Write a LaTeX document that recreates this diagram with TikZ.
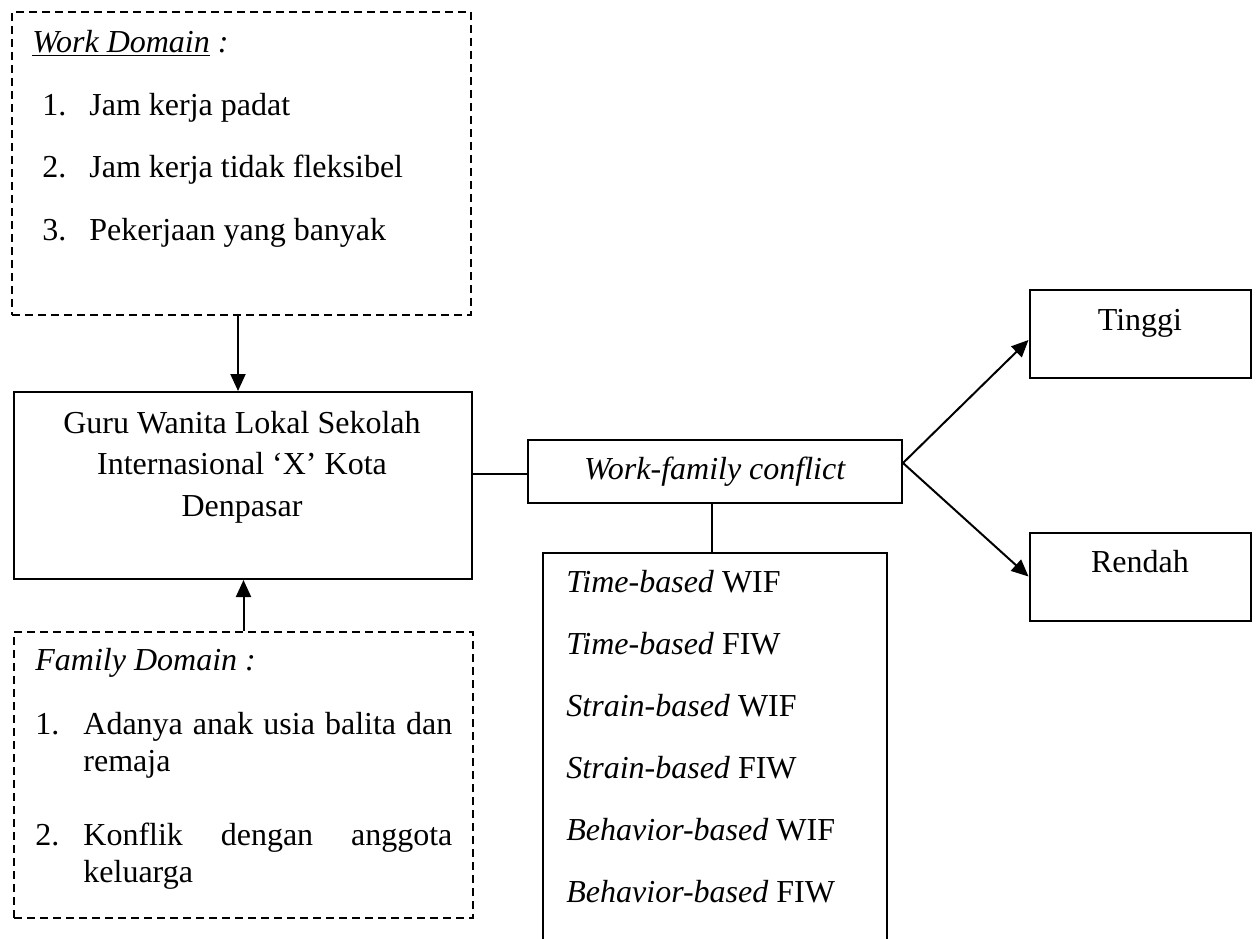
\documentclass[tikz,border=0pt]{standalone}
\usepackage{fontspec}
\setmainfont{Liberation Serif}
\usetikzlibrary{arrows.meta}

\tikzset{
  box/.style={draw, line width=1pt, inner sep=0pt},
  dbox/.style={box, dash pattern=on 4pt off 2.5pt},
  txt/.style={anchor=base west, inner sep=0pt},
  ctr/.style={anchor=base, inner sep=0pt},
  arr/.style={-{Triangle[length=8.5pt,width=7.5pt]}, line width=1pt},
  link/.style={line width=1pt}
}

\begin{document}
\begin{tikzpicture}[every node/.style={font=\fontsize{16}{18.5}\selectfont}, x=0.5pt, y=-0.5pt]

\useasboundingbox (0,0) rectangle (1258,938);

% Boxes
\node[dbox, minimum width=229.5pt, minimum height=151.5pt] (work) at (241.5,163.5) {};
\node[box, minimum width=229pt, minimum height=93.5pt] (guru) at (243,485.5) {};
\node[dbox, minimum width=229.5pt, minimum height=143pt] (family) at (243.5,775) {};
\node[box, minimum width=187pt, minimum height=31.5pt] (wfc) at (715,471.5) {\textit{Work-family conflict}};
\node[minimum width=172pt, minimum height=193.5pt, inner sep=0pt] (facets) at (715,746.5) {};
\node[box, minimum width=110.5pt, minimum height=44pt] (high) at (1140,334) {};
\node[box, minimum width=110.5pt, minimum height=44pt] (low) at (1140,576.5) {};

% Work domain
\node[txt] (wtitle) at (32,52) {\textit{\underline{Work Domain} :}};
\foreach \n/\lbl [count=\i from 0] in {1/Jam kerja padat, 2/Jam kerja tidak fleksibel, 3/Pekerjaan yang banyak} {
	\node[txt] (wn\n) at (42,{115+62.5*\i}) {\n.};
	\node[txt] (wi\n) at (89,{115+62.5*\i}) {\lbl};
}

% Guru
\foreach \lbl [count=\i from 0] in {Guru Wanita Lokal Sekolah, Internasional ‘X’ Kota, Denpasar} {
	\node[ctr] (g\i) at (242,{433+41.5*\i}) {\lbl};
}

% Family domain
\node[txt] (ftitle) at (35,670) {\textit{Family Domain :}};
\node[txt] (fn1) at (35,734) {1.};
\node[txt] (fi1) at (83,734) {\makebox[184.5pt][s]{Adanya anak usia balita dan}};
\node[txt] (fi1b) at (83,771) {remaja};
\node[txt] (fn2) at (35,845) {2.};
\node[txt] (fi2) at (83,845) {\makebox[184.5pt][s]{Konflik dengan anggota}};
\node[txt] (fi2b) at (83,882) {keluarga};

% Dimensions
\foreach \pre/\suf [count=\i from 0] in {Time/WIF, Time/FIW, Strain/WIF, Strain/FIW, Behavior/WIF, Behavior/FIW} {
	\node[txt] (f\i) at (566,{592+62*\i}) {\textit{\pre-based} \suf};
}
\draw[link] (facets.south west) -- (facets.north west) -- (facets.north east) -- (facets.south east);

% Levels
\node[ctr] (highlbl) at (1140,330) {Tinggi};
\node[ctr] (lowlbl) at (1140,572) {Rendah};

% Connectors
\coordinate (wtop) at ([xshift=-1.75pt]work.south);
\draw[arr] (wtop) -- (wtop |- guru.north);
\draw[arr] (family.north) -- (family.north |- guru.south);

\coordinate (wfcin) at ([yshift=-1.25pt]wfc.west);
\draw[link] (wfcin -| guru.east) -- (wfcin);
\coordinate (wfcout) at ([xshift=-1.5pt]wfc.south);
\draw[link] (wfcout) -- (wfcout |- facets.north);

\coordinate (split) at ([yshift=4.25pt]wfc.east);
\draw[arr] (split) -- ([yshift=-3pt]high.west);
\draw[arr] (split) -- (low.west);

\end{tikzpicture}
\end{document}
